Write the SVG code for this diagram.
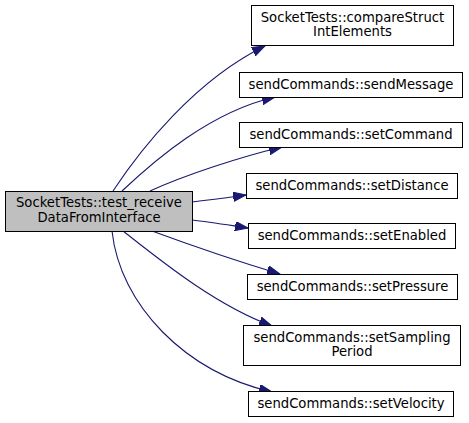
<svg xmlns="http://www.w3.org/2000/svg" width="469" height="423" viewBox="0 0 469 423">
<style>
.box{fill:#ffffff;stroke:#000000;stroke-width:1}
.root{fill:#bfbfbf;stroke:#000000;stroke-width:1}
text{font-family:"DejaVu Sans","Liberation Sans",sans-serif;font-size:13.2px;fill:#000000;text-anchor:middle}
.edge{fill:none;stroke:#191970;stroke-width:1.1;marker-end:url(#arr)}
</style>
<defs>
<marker id="arr" markerUnits="userSpaceOnUse" markerWidth="14" markerHeight="10" refX="13" refY="4.7" orient="auto" viewBox="0 0 14 10">
<path d="M0,0 L13,4.7 L0,9.4 z" fill="#191970" stroke="#191970" stroke-width="1"/>
</marker>
</defs>
<rect width="469" height="423" fill="#ffffff"/>
<g id="connectors">
<path class="edge" d="M113,191 C140,150 195,80 265,46"/>
<path class="edge" d="M122,191 C155,160 210,112 275,97"/>
<path class="edge" d="M150,191 C185,175 240,157 282,147"/>
<path class="edge" d="M192,202 C208,200 225,198 246,195"/>
<path class="edge" d="M192,220 C210,222 228,225 248,228"/>
<path class="edge" d="M152,231 C190,245 240,262 280,274"/>
<path class="edge" d="M123,231 C160,260 215,305 272,326"/>
<path class="edge" d="M112,231 C120,305 185,372 272,392"/>
</g>
<g id="node-root">
<rect class="root" x="5.5" y="191.5" width="187" height="40"/>
<text x="99" y="207.3">SocketTests::test_receive</text>
<text x="99" y="221.8">DataFromInterface</text>
</g>
<g id="node-compareStructIntElements">
<rect class="box" x="251.5" y="5.5" width="202" height="40"/>
<text x="352.5" y="21.8">SocketTests::compareStruct</text>
<text x="352.5" y="36.3">IntElements</text>
</g>
<g id="node-sendMessage">
<rect class="box" x="239.5" y="72.5" width="223" height="25"/>
<text x="351" y="89.3">sendCommands::sendMessage</text>
</g>
<g id="node-setCommand">
<rect class="box" x="239.5" y="122.5" width="223" height="25"/>
<text x="351" y="139.3">sendCommands::setCommand</text>
</g>
<g id="node-setDistance">
<rect class="box" x="246.5" y="173.5" width="211" height="25"/>
<text x="352" y="190.3">sendCommands::setDistance</text>
</g>
<g id="node-setEnabled">
<rect class="box" x="248.5" y="223.5" width="207" height="25"/>
<text x="352" y="240.3">sendCommands::setEnabled</text>
</g>
<g id="node-setPressure">
<rect class="box" x="247.5" y="274.5" width="210" height="25"/>
<text x="352.5" y="291.3">sendCommands::setPressure</text>
</g>
<g id="node-setSamplingPeriod">
<rect class="box" x="243.5" y="325.5" width="217" height="40"/>
<text x="352" y="341.8">sendCommands::setSampling</text>
<text x="352" y="356.3">Period</text>
</g>
<g id="node-setVelocity">
<rect class="box" x="248.5" y="391.5" width="205" height="25"/>
<text x="351" y="408.3">sendCommands::setVelocity</text>
</g>
</svg>
